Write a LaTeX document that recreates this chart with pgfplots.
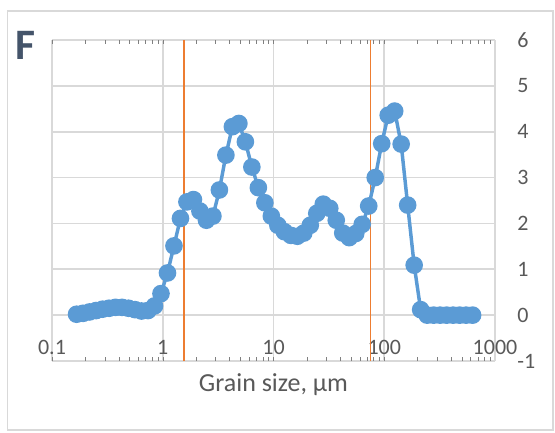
\documentclass[border=0pt]{standalone}
\usepackage{fontspec}
\setmainfont{Carlito}
\usepackage{pgfplots}
\pgfplotsset{compat=1.18}
\usepackage{pgfplotstable}
\definecolor{xlblue}{HTML}{5B9BD5}
\definecolor{xlorange}{HTML}{ED7D31}
\definecolor{xlgrid}{HTML}{D9D9D9}
\definecolor{xltext}{HTML}{595959}
\definecolor{xlF}{HTML}{44546A}
\pgfplotstableread{
x y
0.1667 0.02
0.1908 0.04
0.2184 0.07
0.2499 0.10
0.2860 0.13
0.3274 0.15
0.3747 0.17
0.4288 0.17
0.4908 0.15
0.5617 0.12
0.6429 0.09
0.7358 0.10
0.8421 0.20
0.964 0.47
1.1033 0.92
1.2627 1.51
1.4452 2.11
1.6540 2.47
1.8930 2.52
2.1666 2.27
2.4797 2.07
2.8380 2.16
3.2481 2.73
3.7175 3.49
4.2547 4.11
4.8695 4.18
5.5731 3.78
6.3784 3.23
7.3001 2.78
8.3550 2.45
9.5623 2.16
10.944 1.96
12.526 1.82
14.336 1.74
16.407 1.72
18.778 1.79
21.492 1.96
24.597 2.22
28.152 2.42
32.220 2.33
36.876 2.07
42.205 1.79
48.303 1.69
55.283 1.78
63.272 1.98
72.415 2.38
82.879 3.00
94.855 3.74
108.56 4.36
124.25 4.45
142.21 3.73
162.76 2.40
186.28 1.09
213.19 0.12
244.00 0
279.26 0
319.61 0
365.80 0
418.66 0
479.15 0
548.39 0
627.64 0
}\grain
\begin{document}
\begin{tikzpicture}
\useasboundingbox (0,0) rectangle (416.25pt,324pt);
\draw[xlgrid, line width=1.1pt] (5.6pt,1.5pt) rectangle (414.75pt,315.75pt);
\begin{axis}[
  at={(39pt,53.25pt)}, anchor=south west,
  width=332.25pt, height=240.75pt, scale only axis,
  xmode=log, xmin=0.1, xmax=1000, ymin=-1, ymax=6,
  axis line style={draw=none},
  xtick={0.1,1,10,100,1000},
  xticklabels={0.1,1,10,100,1000},
  ytick={-1,0,1,2,3,4,5,6},
  yticklabels={-1,0,1,2,3,4,5,6},
  minor xtick={}, 
  major tick length=0pt,
  grid=major,
  major grid style={xlgrid, line width=1.2pt},
  yticklabel pos=right,
  tick label style={font=\fontsize{16.5}{18}\selectfont, text=xltext},
  xticklabel style={anchor=base, yshift=4.9pt},
  yticklabel style={anchor=west, inner sep=0pt, xshift=16.5pt},
  clip=false,
]
\addplot[xlorange, line width=1pt] coordinates {(1.56,-1) (1.56,6)};
\addplot[xlorange, line width=1pt] coordinates {(75,-1) (75,6)};
\addplot[xlblue, line width=2.6pt, mark=*, mark size=5.3pt,
  mark options={fill=xlblue, draw=none}] table[x=x,y=y] {\grain};
\end{axis}
\node[anchor=base, text=xltext, font=\fontsize{19.5}{22}\selectfont] at (205.1pt,30.2pt) {Grain size, µm};
\node[anchor=base west, inner sep=0pt, text=xlF, font=\fontsize{32.6}{36}\selectfont\bfseries] at (11.6pt,279pt) {F};
\end{tikzpicture}
\end{document}
